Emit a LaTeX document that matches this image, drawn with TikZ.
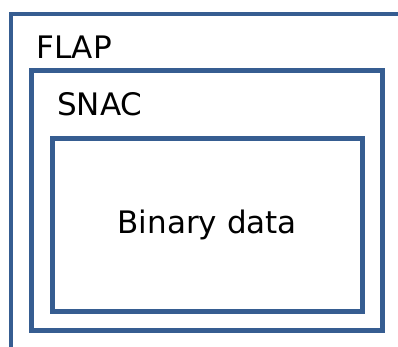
\documentclass[tikz,border=0pt]{standalone}
\usepackage{fontspec}
\setmainfont{DejaVu Sans}
\usepackage{xcolor}
\usepackage{tikz}
\usetikzlibrary{positioning}
\definecolor{framecolor}{RGB}{54, 93, 145}

\begin{document}
\begin{tikzpicture}[
    x=1pt, y=-1pt,
    layerbox/.style={draw=framecolor, rectangle, fill=none, inner sep=0pt},
    layerlabel/.style={anchor=base west, inner sep=0pt, font=\fontsize{31}{37}\selectfont}
]
    \useasboundingbox (0,0) rectangle (398,347);
    \clip (0,0) rectangle (398,347);

    % FLAP
    \node[layerbox, line width=4pt, minimum width=409.5pt, minimum height=355.5pt] (flap) at (215.25,192.25) {};
    \node[layerlabel] (flaplabel) at (36,58.3) {FLAP};

    % SNAC
    \node[layerbox, line width=5pt, minimum width=350.5pt, minimum height=259.5pt] (snac) at (206.75,200.25) {};
    \node[layerlabel] (snaclabel) at (57,115.5) {SNAC};

    % Binary data
    \node[layerbox, line width=5pt, minimum width=310.5pt, minimum height=172pt,
          font=\fontsize{31}{37}\selectfont] (data) at (207.25,225) {Binary data};
\end{tikzpicture}
\end{document}
